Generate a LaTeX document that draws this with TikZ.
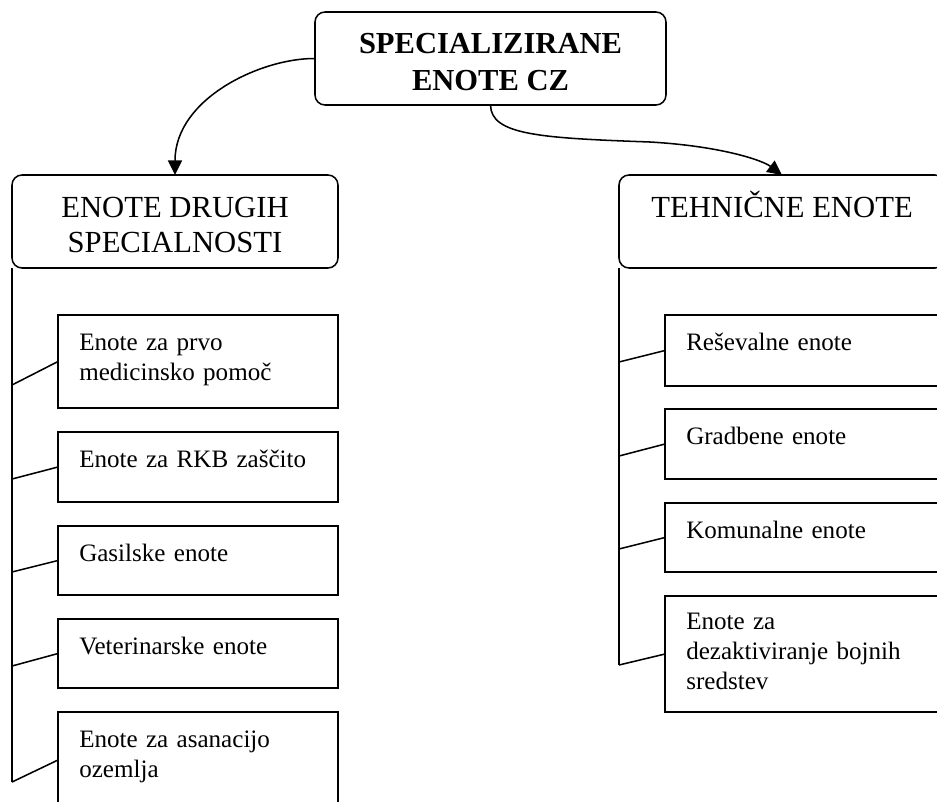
\documentclass[tikz,border=0pt]{standalone}
\usepackage{fontspec}
\setmainfont{Liberation Serif}
\usetikzlibrary{arrows.meta,calc}

\tikzset{
  unitbox/.style={draw=black, line width=1.15pt, rectangle, inner sep=0pt, outer sep=0pt, anchor=north west},
  headbox/.style={unitbox, rounded corners=7.5pt},
  toptext/.style={anchor=base, inner sep=0pt, align=center, font=\fontsize{22.9}{27.75}\selectfont\bfseries},
  headtext/.style={anchor=base, inner sep=0pt, align=center, font=\fontsize{23}{26.25}\selectfont},
  itemtext/.style={anchor=base west, inner sep=0pt, text width=190pt, align=left, font=\fontsize{18.8}{22.5}\selectfont},
  link/.style={draw=black, line width=1.15pt},
  arrowlink/.style={link, -{Triangle[length=11pt, width=10.5pt]}},
}

% a box given by its top-left corner and its size, all in pixels
\newcommand\pxbox[6]{\node[#2, minimum width=#5*0.75pt, minimum height=#6*0.75pt] (#1) at (#3,#4) {};}

\begin{document}
\begin{tikzpicture}[x=0.75pt, y=-0.75pt]
  \path[use as bounding box, fill=white] (0,0) rectangle (937,801);
  \clip (0,0) rectangle (937,801);

  % root (text anchored at the baseline of its last line)
  \pxbox{root}{headbox}{315}{12}{351}{93}
  \node[toptext] (roott) at ($(root.north)+(0,78)$) {SPECIALIZIRANE\\ENOTE CZ};

  % branch heads
  \pxbox{lhead}{headbox}{12}{175}{326}{93}
  \node[headtext] (lheadt) at ($(lhead.north)+(0,77)$) {ENOTE DRUGIH\\SPECIALNOSTI};
  \pxbox{rhead}{headbox}{619}{175}{326}{93}
  \node[headtext] (rheadt) at ($(rhead.north)+(0,42)$) {TEHNIČNE ENOTE};

  % left column
  \pxbox{l1}{unitbox}{58}{315}{280}{93}
  \pxbox{l2}{unitbox}{58}{432}{280}{70}
  \pxbox{l3}{unitbox}{58}{526}{280}{69}
  \pxbox{l4}{unitbox}{58}{619}{280}{69}
  \pxbox{l5}{unitbox}{58}{712}{280}{96}
  \node[itemtext] (l1t) at ($(l1.north west)+(21,35)$) {Enote za prvo\\medicinsko pomoč};
  \node[itemtext] (l2t) at ($(l2.north west)+(21,35)$) {Enote za RKB zaščito};
  \node[itemtext] (l3t) at ($(l3.north west)+(21,35)$) {Gasilske enote};
  \node[itemtext] (l4t) at ($(l4.north west)+(21,35)$) {Veterinarske enote};
  \node[itemtext] (l5t) at ($(l5.north west)+(21,35)$) {Enote za asanacijo\\ozemlja};

  % right column
  \pxbox{r1}{unitbox}{665}{315}{280}{71}
  \pxbox{r2}{unitbox}{665}{409}{280}{70}
  \pxbox{r3}{unitbox}{665}{503}{280}{69}
  \pxbox{r4}{unitbox}{665}{596}{280}{116}
  \node[itemtext] (r1t) at ($(r1.north west)+(21,35)$) {Reševalne enote};
  \node[itemtext] (r2t) at ($(r2.north west)+(21,35)$) {Gradbene enote};
  \node[itemtext] (r3t) at ($(r3.north west)+(21,35)$) {Komunalne enote};
  \node[itemtext] (r4t) at ($(r4.north west)+(21,33)$) {Enote za\\dezaktiviranje bojnih\\sredstev};

  % trunk points
  \coordinate (lt1) at (12,385);
  \coordinate (lt2) at (12,479);
  \coordinate (lt3) at (12,572);
  \coordinate (lt4) at (12,666);
  \coordinate (lt5) at (12,782);
  \coordinate (rt1) at (619,362);
  \coordinate (rt2) at (619,456);
  \coordinate (rt3) at (619,549);
  \coordinate (rt4) at (619,665);

  % trunks and branches
  \draw[link] (lhead.south west) -- (lt5);
  \draw[link] (rhead.south west) -- (rt4);
  \foreach \i in {1,...,5} { \draw[link] (lt\i) -- (l\i.west); }
  \foreach \i in {1,...,4} { \draw[link] (rt\i) -- (r\i.west); }

  % curved arrows from the root
  \draw[arrowlink] (root.west) .. controls (262,58) and (175,98) .. (lhead.north);
  \draw[arrowlink] (root.south) .. controls (491,135) and (540,138) .. (650,142)
                               .. controls (720,146) and (762,160) .. (rhead.north);
\end{tikzpicture}
\end{document}
